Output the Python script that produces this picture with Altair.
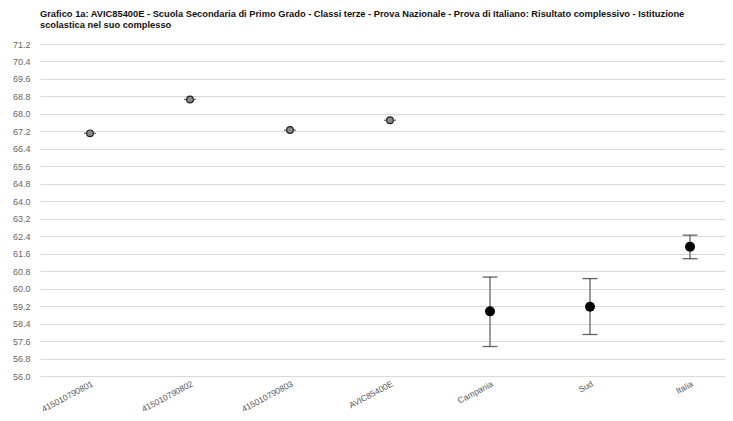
import altair as alt
import pandas as pd

categories = ["415010790801", "415010790802", "415010790803", "AVIC85400E",
              "Campania", "Sud", "Italia"]
means = [67.11, 68.66, 67.26, 67.71, 58.96, 59.17, 61.92]
lows = [67.08, 68.63, 67.23, 67.68, 57.35, 57.90, 61.37]
highs = [67.14, 68.69, 67.29, 67.74, 60.53, 60.46, 62.45]
kinds = ["scuola", "scuola", "scuola", "scuola", "rif", "rif", "rif"]
y_ticks = [round(56.0 + 0.8 * i, 1) for i in range(20)]

df = pd.DataFrame({"idx": list(range(len(categories))), "cat": categories,
                   "mean": means, "lo": lows, "hi": highs, "kind": kinds})

label_expr = "[" + ",".join("'" + c + "'" for c in categories) + "][datum.value]"

x_enc = alt.X("idx:Q", title=None,
              scale=alt.Scale(domain=[-0.5, 6.35], nice=False, zero=False),
              axis=alt.Axis(values=list(range(len(categories))), labelExpr=label_expr,
                            tickCount=len(categories),
                            labelAngle=-28, labelAlign="right", labelBaseline="top",
                            labelFont="Liberation Sans", labelFontSize=8.5, labelColor="#595959",
                            labelPadding=3, ticks=False, domain=False, grid=False,
                            labelOverlap=False))
y_scale = alt.Scale(domain=[56.0, 71.2], nice=False, zero=False)
y_axis = alt.Axis(values=y_ticks, tickCount=len(y_ticks), format=".1f",
                  labelFont="Liberation Sans", labelFontSize=9, labelOverlap=False,
                  labelColor="#666666", labelPadding=10, ticks=False, domain=False,
                  gridColor="#d9d9d9", gridWidth=1)

base = alt.Chart(df)

rules = base.mark_rule(color="#808080", strokeWidth=1.6).encode(
    x=x_enc, y=alt.Y("lo:Q", scale=y_scale, axis=y_axis, title=None), y2="hi:Q")

ref = base.transform_filter(alt.datum.kind == "rif")
sch = base.transform_filter(alt.datum.kind == "scuola")

ticks_lo_ref = ref.mark_tick(color="#222222", size=15, thickness=1.3, orient="horizontal").encode(
    x=x_enc, y=alt.Y("lo:Q", scale=y_scale, axis=y_axis, title=None))
ticks_hi_ref = ref.mark_tick(color="#222222", size=15, thickness=1.3, orient="horizontal").encode(
    x=x_enc, y=alt.Y("hi:Q", scale=y_scale, axis=y_axis, title=None))
ticks_sch = sch.mark_tick(color="#222222", size=12, thickness=1.2, orient="horizontal").encode(
    x=x_enc, y=alt.Y("mean:Q", scale=y_scale, axis=y_axis, title=None))

pts_ref = ref.mark_circle(color="black", size=100, opacity=1).encode(
    x=x_enc, y=alt.Y("mean:Q", scale=y_scale, axis=y_axis, title=None))
pts_sch = sch.mark_point(shape="circle", filled=True, fill="#8a8a8a", stroke="#222222",
                         strokeWidth=1.2, size=45, opacity=1).encode(
    x=x_enc, y=alt.Y("mean:Q", scale=y_scale, axis=y_axis, title=None))

chart = alt.layer(rules, ticks_lo_ref, ticks_hi_ref, ticks_sch, pts_sch, pts_ref).properties(
    width=685, height=332,
    title=alt.TitleParams(
        text=["Grafico 1a: AVIC85400E - Scuola Secondaria di Primo Grado - Classi terze - Prova Nazionale - Prova di Italiano: Risultato complessivo - Istituzione",
              "scolastica nel suo complesso"],
        anchor="start", frame="group", font="Liberation Sans", fontSize=9.3, fontWeight="bold",
        color="#111111", lineHeight=11, offset=10),
    autosize=alt.AutoSizeParams(type="none"),
    padding={"left": 32, "top": 36, "right": 0, "bottom": 37},
).configure_view(stroke=None)

chart.save("out.html", embed_options={"renderer": "svg", "actions": False})
